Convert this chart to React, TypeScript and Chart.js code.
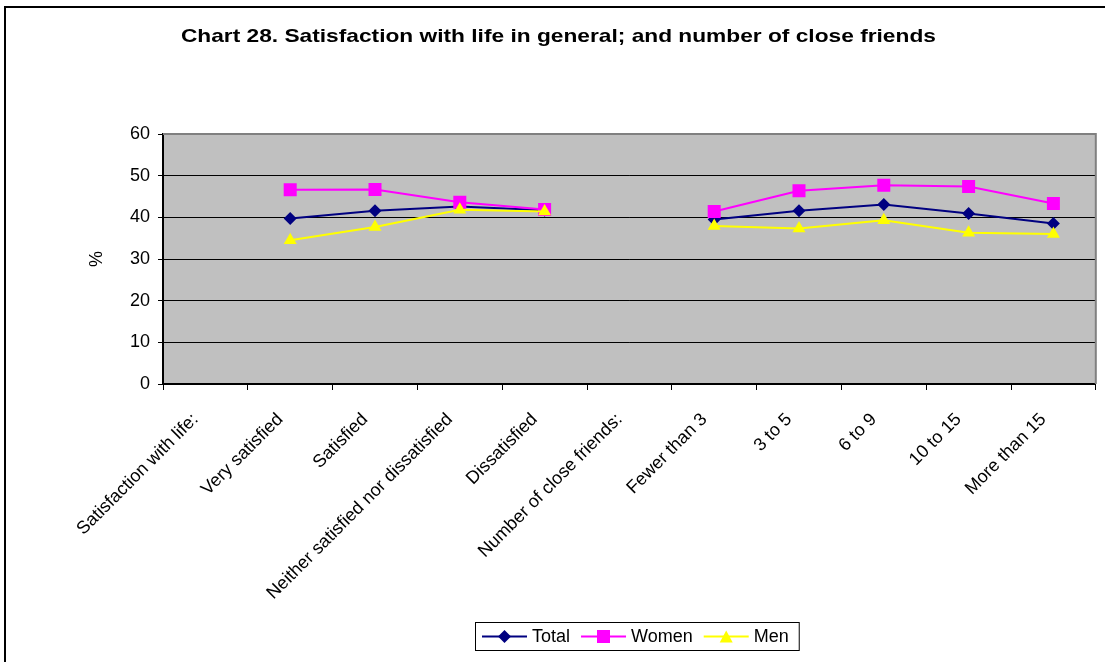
import React, { useEffect, useRef } from 'react';
import { Chart, registerables } from 'chart.js';

Chart.register(...registerables);

const FONT = '"Liberation Sans", Arial, Helvetica, sans-serif';

const categories = [
  'Satisfaction with life:',
  'Very satisfied',
  'Satisfied',
  'Neither satisfied nor dissatisfied',
  'Dissatisfied',
  'Number of close friends:',
  'Fewer than 3',
  '3 to 5',
  '6 to 9',
  '10 to 15',
  'More than 15',
];
const totalValues = [null, 39.7, 41.6, 42.6, 41.7, null, 39.5, 41.6, 43.1, 40.9, 38.5];
const womenValues = [null, 46.6, 46.7, 43.6, 41.9, null, 41.4, 46.4, 47.7, 47.4, 43.3];
const menValues = [null, 34.5, 37.7, 41.8, 41.4, null, 37.9, 37.3, 39.3, 36.3, 36.0];
const yMin = 0;
const yMax = 60;
const yStep = 10;
const titleText = 'Chart 28. Satisfaction with life in general; and number of close friends';
const yAxisTitle = '%';
const seriesNames = ['Total', 'Women', 'Men'];
const seriesColors = ['#000080', '#FF00FF', '#FFFF00'];

function drawMarker(ctx: CanvasRenderingContext2D, style: string, x: number, y: number, color: string) {
  ctx.save();
  ctx.fillStyle = color;
  ctx.beginPath();
  if (style === 'rectRot') {
    const r = 6.5;
    ctx.moveTo(x - r, y);
    ctx.lineTo(x, y - r);
    ctx.lineTo(x + r, y);
    ctx.lineTo(x, y + r);
  } else if (style === 'rect') {
    const s = 6.5;
    ctx.rect(x - s, y - s, 2 * s, 2 * s);
  } else {
    const w = 6.5;
    ctx.moveTo(x, y - 6);
    ctx.lineTo(x + w, y + 6);
    ctx.lineTo(x - w, y + 6);
  }
  ctx.closePath();
  ctx.fill();
  ctx.restore();
}

const decorPlugin = {
  id: 'decor',
  beforeDraw(chart: any) {
    const { ctx, chartArea: a, width, height } = chart;
    ctx.save();
    ctx.fillStyle = '#ffffff';
    ctx.fillRect(0, 0, width, height);
    ctx.fillStyle = '#C0C0C0';
    ctx.fillRect(a.left, a.top, a.right - a.left, a.bottom - a.top);
    ctx.restore();
  },
  beforeDatasetsDraw(chart: any) {
    const { ctx, chartArea: a } = chart;
    ctx.save();
    ctx.strokeStyle = '#808080';
    ctx.lineWidth = 2;
    ctx.beginPath();
    ctx.moveTo(a.left, a.top);
    ctx.lineTo(a.right, a.top);
    ctx.lineTo(a.right, a.bottom);
    ctx.stroke();
    ctx.restore();
  },
  afterDraw(chart: any) {
    const { ctx, chartArea: a, width, height } = chart;
    ctx.save();
    // outer frame (left and top edges visible)
    ctx.strokeStyle = '#000';
    ctx.lineWidth = 2;
    ctx.beginPath();
    ctx.moveTo(5, height);
    ctx.lineTo(5, 7);
    ctx.lineTo(width, 7);
    ctx.stroke();

    // title (slightly stretched horizontally like the source)
    ctx.font = `bold 19px ${FONT}`;
    const tw = ctx.measureText(titleText).width;
    const targetW = 755;
    const sx = targetW / tw;
    ctx.save();
    ctx.translate((a.left + a.right) / 2 - 71, 42);
    ctx.scale(sx, 1);
    ctx.fillStyle = '#000';
    ctx.textAlign = 'center';
    ctx.textBaseline = 'alphabetic';
    ctx.fillText(titleText, 0, 0);
    ctx.restore();

    // legend
    ctx.font = `18px ${FONT}`;
    const items = chart.data.datasets.map((ds: any) => ({
      label: ds.label,
      color: ds.borderColor,
      style: ds.pointStyle,
    }));
    const lineW = 45;
    const gapText = 5;
    const gapItem = 11;
    const padL = 7;
    const padR = 10;
    const tws = items.map((it: any) => ctx.measureText(it.label).width);
    let total = padL + padR + gapItem * (items.length - 1);
    tws.forEach((w: number) => (total += lineW + gapText + w));
    const cx = (a.left + a.right) / 2 + 7;
    const bx = Math.round(cx - total / 2);
    const by = height - 40;
    const bh = 28;
    ctx.fillStyle = '#fff';
    ctx.fillRect(bx, by, total, bh);
    ctx.strokeStyle = '#000';
    ctx.lineWidth = 1;
    ctx.strokeRect(bx + 0.5, by + 0.5, total, bh);
    let x = bx + padL;
    const cy = by + bh / 2 + 0.5;
    items.forEach((it: any, i: number) => {
      ctx.strokeStyle = it.color;
      ctx.lineWidth = 2;
      ctx.beginPath();
      ctx.moveTo(x, cy);
      ctx.lineTo(x + lineW, cy);
      ctx.stroke();
      drawMarker(ctx, it.style, x + lineW / 2, cy, it.color);
      ctx.fillStyle = '#000';
      ctx.textBaseline = 'middle';
      ctx.textAlign = 'left';
      ctx.fillText(it.label, x + lineW + gapText, cy + 1);
      x += lineW + gapText + tws[i] + gapItem;
    });
    ctx.restore();
  },
};

export default function App() {
  const canvasRef = useRef<HTMLCanvasElement | null>(null);

  useEffect(() => {
    if (!canvasRef.current) return;
    Chart.defaults.font.family = FONT;
    const chart = new Chart(canvasRef.current, {
      type: 'line',
      data: {
        labels: categories,
        datasets: [
          {
            label: seriesNames[0],
            data: totalValues,
            borderColor: seriesColors[0],
            backgroundColor: seriesColors[0],
            pointStyle: 'rectRot',
            pointRadius: 6.5,
            pointBorderWidth: 0,
            borderWidth: 2,
            spanGaps: false,
            order: 3,
          },
          {
            label: seriesNames[1],
            data: womenValues,
            borderColor: seriesColors[1],
            backgroundColor: seriesColors[1],
            pointStyle: 'rect',
            pointRadius: 9.2,
            pointBorderWidth: 0,
            borderWidth: 2,
            spanGaps: false,
            order: 2,
          },
          {
            label: seriesNames[2],
            data: menValues,
            borderColor: seriesColors[2],
            backgroundColor: seriesColors[2],
            pointStyle: 'triangle',
            pointRadius: 7.5,
            pointBorderWidth: 0,
            borderWidth: 2,
            spanGaps: false,
            order: 1,
          },
        ],
      },
      options: {
        responsive: false,
        devicePixelRatio: 1,
        animation: false,
        layout: { padding: { left: 20, right: 5, top: 134, bottom: 0 } },
        plugins: {
          legend: { display: false },
          tooltip: { enabled: false },
          title: { display: false },
        },
        scales: {
          x: {
            type: 'category',
            offset: true,
            grid: {
              display: true,
              drawOnChartArea: false,
              drawTicks: true,
              tickLength: 6,
              color: '#000',
              offset: true,
            },
            border: { display: true, color: '#000', width: 2 },
            ticks: {
              autoSkip: false,
              maxRotation: 45,
              minRotation: 45,
              padding: 19,
              labelOffset: -10,
              color: '#000',
              font: { size: 18, family: FONT },
            },
            afterFit: (s: any) => {
              s.height = 278;
            },
          },
          y: {
            min: yMin,
            max: yMax,
            ticks: {
              stepSize: yStep,
              padding: 8,
              color: '#000',
              font: { size: 18, family: FONT },
            },
            grid: { color: '#000', lineWidth: 1, drawTicks: true, tickLength: 5 },
            border: { color: '#000', width: 2 },
            title: {
              display: true,
              text: yAxisTitle,
              color: '#000',
              font: { size: 18, family: FONT },
              padding: { top: 66, bottom: 0 },
            },
            afterFit: (s: any) => {
              s.width = 143;
            },
          },
        },
      },
      plugins: [decorPlugin],
    } as any);
    return () => chart.destroy();
  }, []);

  return (
    <div
      style={{
        position: 'absolute',
        left: 0,
        top: 0,
        width: 1105,
        height: 662,
        overflow: 'hidden',
        background: '#fff',
      }}
    >
      <canvas ref={canvasRef} width={1105} height={662} style={{ display: 'block' }} />
    </div>
  );
}
